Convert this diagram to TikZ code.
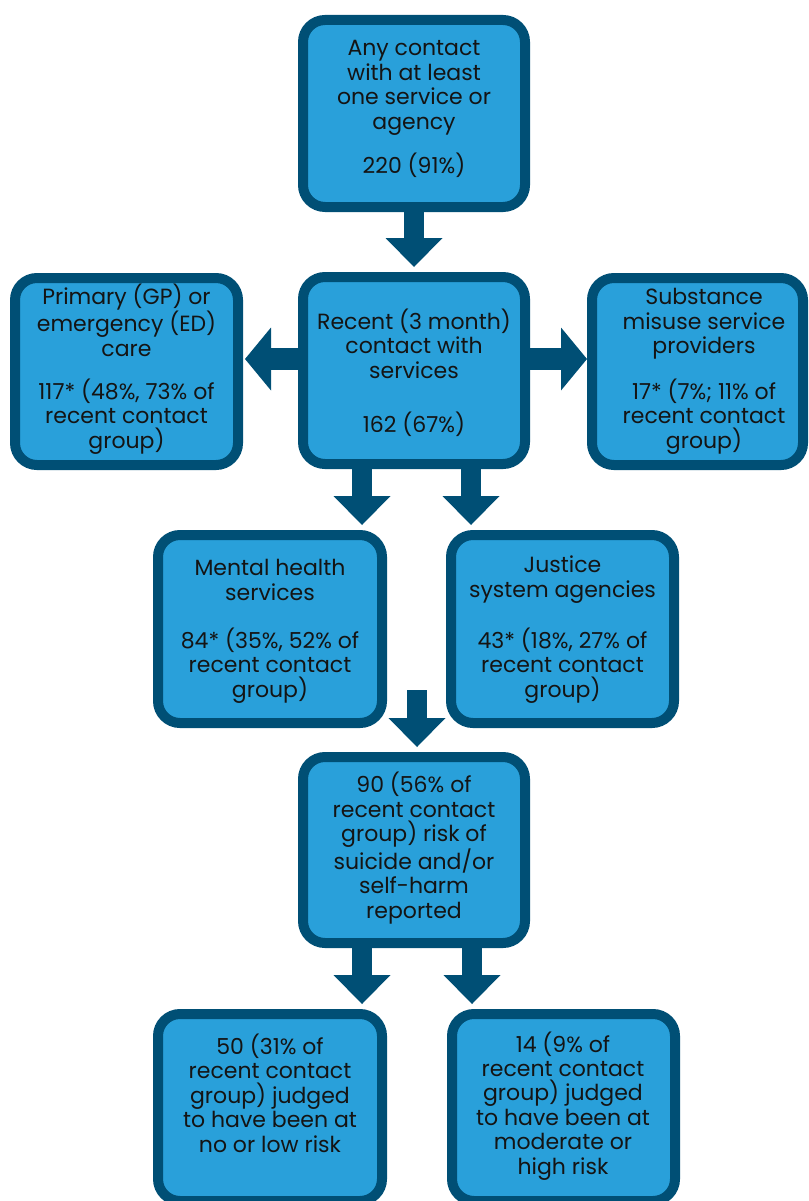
\documentclass[tikz,border=0pt]{standalone}
\usepackage{fontspec}
\setmainfont{Poppins}
\usetikzlibrary{arrows.meta}
\definecolor{boxdark}{RGB}{0,79,117}
\definecolor{boxfill}{RGB}{41,160,218}
\definecolor{txtcol}{RGB}{20,20,20}
\tikzset{
  flowbox/.style={draw=boxdark, fill=boxfill, line width=10pt, rounded corners=22pt,
    minimum width=222pt, minimum height=187pt, inner sep=0pt},
  txt/.style={align=center, inner sep=0pt, anchor=base, text=txtcol,
    font=\fontsize{22}{24.4}\selectfont},
  vconn/.style={draw=boxdark, line width=20pt,
    -{Triangle[length=29pt,width=57pt,line width=0pt]}},
  hconn/.style={draw=boxdark, line width=22pt,
    -{Triangle[length=26pt,width=63pt,line width=0pt]}},
}
\begin{document}
\begin{tikzpicture}[x=1pt,y=-1pt]
\useasboundingbox (0,0) rectangle (808,1201);
\clip (0,0) rectangle (808,1201);
% boxes
\node[flowbox] (b1) at (414,113.5) {};
\node[flowbox] (b2) at (414,370.5) {};
\node[flowbox, minimum width=223pt] (b3) at (126.5,371.5) {};
\node[flowbox, minimum width=211pt] (b4) at (697.5,371.5) {};
\node[flowbox, minimum width=224pt, minimum height=188pt] (b5) at (270,629) {};
\node[flowbox, minimum width=223pt, minimum height=188pt] (b6) at (562.5,629) {};
\node[flowbox, minimum height=186pt] (b7) at (414,850) {};
\node[flowbox, minimum width=224pt] (b8) at (270,1107.5) {};
\node[flowbox, minimum width=223pt] (b9) at (563.5,1107.5) {};
% texts (anchor = baseline of last line)
\node[txt] (t1) at (414,174) {Any contact\\with at least\\one service or\\agency\\[17.5pt]220 (91\%)};
\node[txt] (t2) at (414,432) {Recent (3 month)\\contact with\\services\\[29.5pt]162 (67\%)};
\node[txt] (t3) at (126.5,448) {Primary (GP) or\\emergency (ED)\\care\\[18.5pt]117* (48\%, 73\% of\\recent contact\\group)};
\node[txt] (t4) at (704,448) {Substance\\misuse service\\providers\\[18.5pt]17* (7\%; 11\% of\\recent contact\\group)};
\node[txt] (t5) at (270,697) {Mental health\\services\\[23.5pt]84* (35\%, 52\% of\\recent contact\\group)};
\node[txt] (t6) at (562.5,697) {Justice\\system agencies\\[23.5pt]43* (18\%, 27\% of\\recent contact\\group)};
\node[txt] (t7) at (414,918) {90 (56\% of\\recent contact\\group) risk of\\suicide and/or\\self-harm\\reported};
\node[txt] (t8) at (270,1152) {50 (31\% of\\recent contact\\group) judged\\to have been at\\no or low risk};
\node[txt] (t9) at (563,1174) {14 (9\% of\\recent contact\\group) judged\\to have been at\\moderate or\\high risk};
% connectors
\draw[vconn, shorten >=5pt] (b1.south) -- (b2.north);
\draw[hconn, shorten >=2pt] ([yshift=11.5pt]b2.west) -- ([yshift=11.5pt]b2.west -| b3.east);
\draw[hconn, shorten >=0pt] ([yshift=11.5pt]b2.east) -- ([yshift=11.5pt]b2.east -| b4.west);
\draw[vconn, shorten >=5pt] ([xshift=-25pt]b5.north east |- b2.south) -- ([xshift=-25pt]b5.north east);
\draw[vconn, shorten >=5pt] ([xshift=25pt]b6.north west |- b2.south) -- ([xshift=25pt]b6.north west);
\coordinate (mid) at (417,690);
\draw[vconn, shorten >=5pt] (mid) -- (mid |- b7.north);
\draw[vconn, shorten >=5pt] ([xshift=-25pt]b8.north east |- b7.south) -- ([xshift=-25pt]b8.north east);
\draw[vconn, shorten >=5pt] ([xshift=25pt]b9.north west |- b7.south) -- ([xshift=25pt]b9.north west);
\end{tikzpicture}
\end{document}
